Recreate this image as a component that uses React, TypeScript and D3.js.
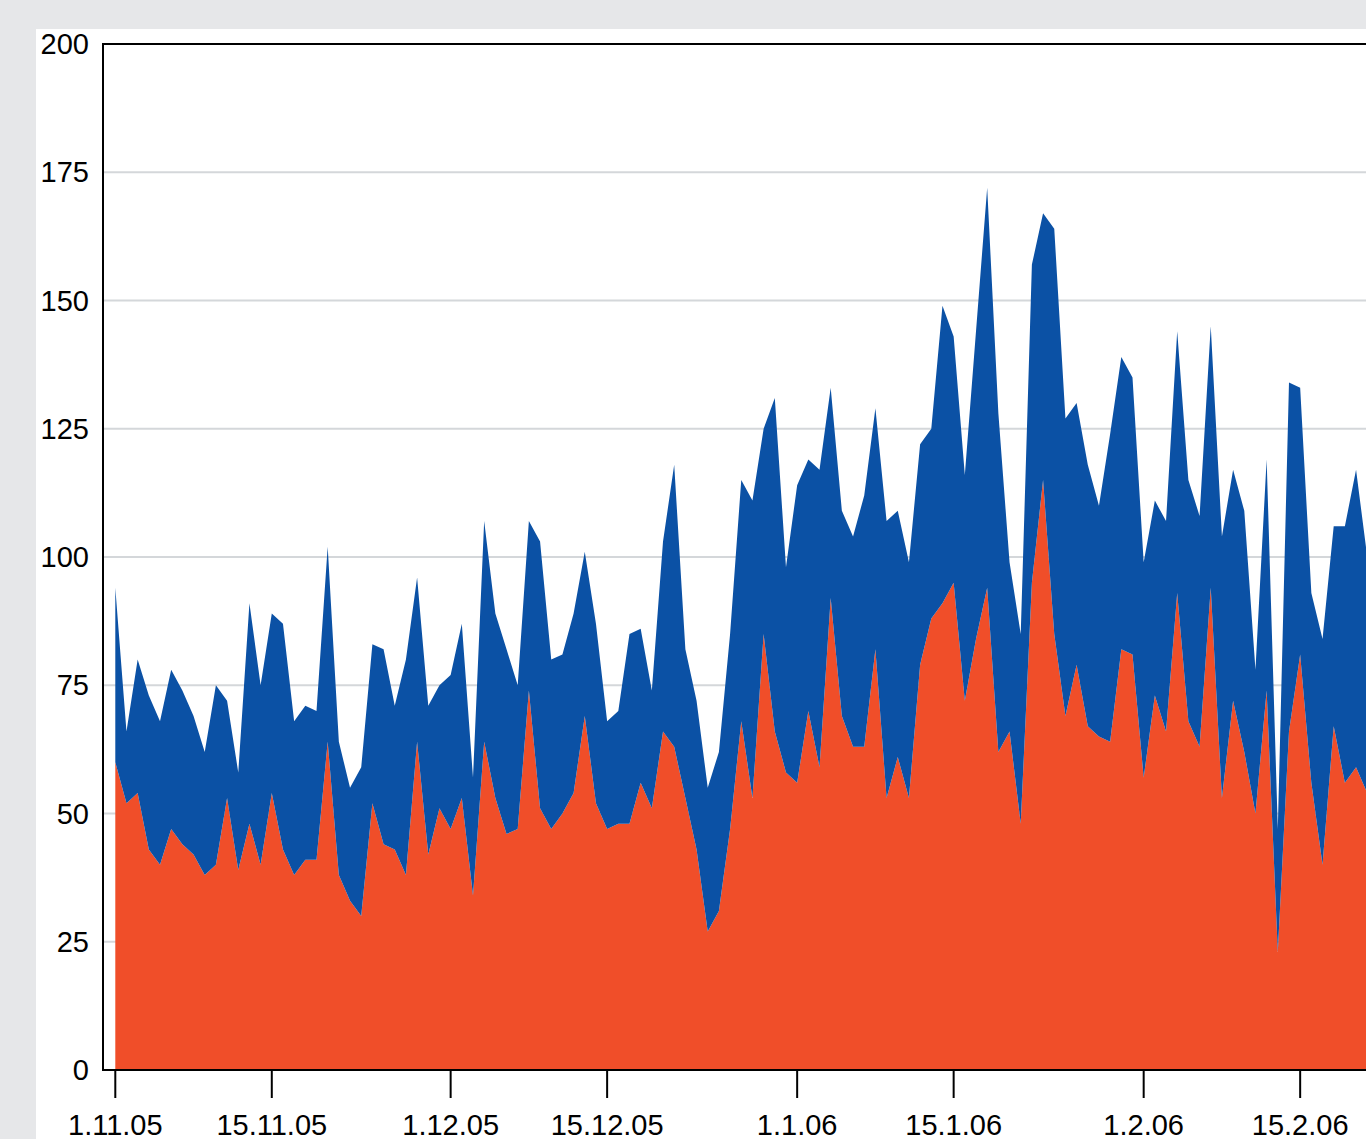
import React from 'react';
import { scaleUtc, scaleLinear, area, stack, utcFormat, utcDay } from 'd3';

// daily values from 1.11.05
const startDate = new Date(Date.UTC(2005, 10, 1));

const orangeValues = [
  60, 52, 54, 43, 40, 47, 44, 42, 38, 40, 53, 39, 48, 40, 54, 43, 38, 41, 41, 64,
  38, 33, 30, 52, 44, 43, 38, 64, 42, 51, 47, 53, 34, 64, 53, 46, 47, 74, 51, 47,
  50, 54, 69, 52, 47, 48, 48, 56, 51, 66, 63, 53, 43, 27, 31, 47, 68, 53, 85, 66,
  58, 56, 70, 59, 92, 69, 63, 63, 82, 53, 61, 53, 79, 88, 91, 95, 72, 84, 94, 62,
  66, 48, 95, 115, 85, 69, 79, 67, 65, 64, 82, 81, 57, 73, 66, 93, 68, 63, 94, 53,
  72, 62, 50, 74, 23, 66, 81, 56, 40, 67, 56, 59, 54, 50,
];

const blueValues = [
  34, 14, 26, 30, 28, 31, 30, 27, 24, 35, 19, 19, 43, 35, 35, 44, 30, 30, 29, 38,
  26, 22, 29, 31, 38, 28, 42, 32, 29, 24, 30, 34, 23, 43, 36, 36, 28, 33, 52, 33,
  31, 35, 32, 35, 21, 22, 37, 30, 23, 37, 55, 29, 29, 28, 31, 38, 47, 58, 40, 65,
  40, 58, 49, 58, 41, 40, 41, 49, 47, 54, 48, 46, 43, 37, 58, 48, 44, 60, 78, 66,
  33, 37, 62, 52, 79, 58, 51, 51, 45, 60, 57, 54, 42, 38, 41, 51, 47, 45, 51, 51,
  45, 47, 28, 45, 24, 68, 52, 37, 44, 39, 50, 58, 46, 42,
];

const yTicks = [0, 25, 50, 75, 100, 125, 150, 175, 200];
const xTickDates = [
  new Date(Date.UTC(2005, 10, 1)),
  new Date(Date.UTC(2005, 10, 15)),
  new Date(Date.UTC(2005, 11, 1)),
  new Date(Date.UTC(2005, 11, 15)),
  new Date(Date.UTC(2006, 0, 1)),
  new Date(Date.UTC(2006, 0, 15)),
  new Date(Date.UTC(2006, 1, 1)),
  new Date(Date.UTC(2006, 1, 15)),
];

const width = 1366;
const height = 1139;
const font = '"Liberation Sans", Arial, Helvetica, sans-serif';

const App = () => {
  const rows = orangeValues.map((o, i) => ({
    date: utcDay.offset(startDate, i),
    orange: o,
    blue: blueValues[i],
  }));

  const xScale = scaleUtc()
    .domain([startDate, utcDay.offset(startDate, 113)])
    .range([115.3, 115.3 + 113 * 11.178]);

  const yScale = scaleLinear().domain([0, 200]).range([1070, 44]);

  const series = stack<any>().keys(['orange', 'blue'])(rows);
  const colors: Record<string, string> = { orange: '#f04e29', blue: '#0b51a5' };

  const areaGen = area<any>()
    .x(d => xScale(d.data.date))
    .y0(d => yScale(d[0]))
    .y1(d => yScale(d[1]));

  const fmt = utcFormat('%-d.%-m.%y');

  return (
    <div style={{ position: 'absolute', left: 0, top: 0 }}>
      <svg width={width} height={height} style={{ display: 'block' }}>
        <rect x={0} y={0} width={width} height={height} fill="#e6e7e9" />
        <rect x={36} y={29} width={width} height={height} fill="#fff" />

        {yTicks.filter(t => t > 0 && t < 200).map(t => (
          <line key={t} x1={103} x2={width} y1={yScale(t)} y2={yScale(t)}
            stroke="#d4d7da" strokeWidth={2} />
        ))}

        {series.map(s => (
          <path key={s.key} d={areaGen(s) || ''} fill={colors[s.key]} />
        ))}

        <rect x={103} y={44} width={width} height={1026} fill="none"
          stroke="#000" strokeWidth={2} />

        {yTicks.map(t => (
          <text key={t} x={89} y={yScale(t)} textAnchor="end" dominantBaseline="central"
            fontFamily={font} fontSize={29} fill="#000">{t}</text>
        ))}

        {xTickDates.map(d => (
          <g key={d.getTime()} transform={`translate(${xScale(d)},0)`}>
            <line y1={1070} y2={1098} stroke="#000" strokeWidth={2} />
            <text y={1135} textAnchor="middle" fontFamily={font} fontSize={29}
              fill="#000">{fmt(d)}</text>
          </g>
        ))}
      </svg>
    </div>
  );
};

export default App;
